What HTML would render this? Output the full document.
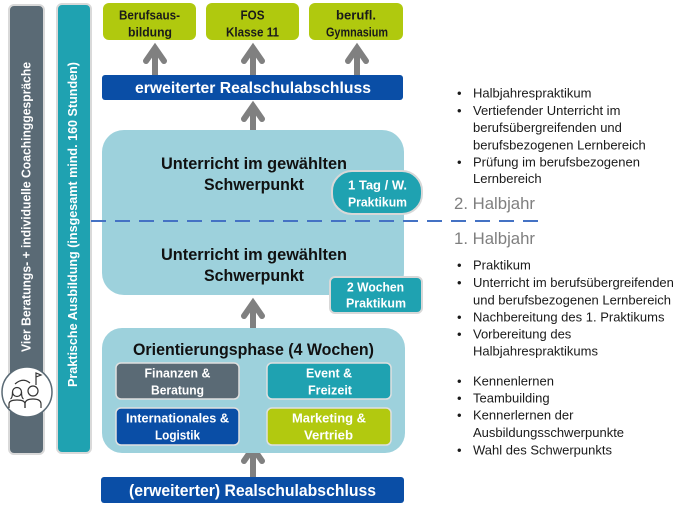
<!DOCTYPE html>
<html><head><meta charset="utf-8">
<style>
html,body{margin:0;padding:0;background:#fff;}
svg{display:block;}
text{font-family:"Liberation Sans",sans-serif;}
.b{font-weight:bold;}
.w{fill:#fff;}
.bl{font-size:13px;fill:#1a1a1a;}
</style></head>
<body>
<svg width="700" height="512" viewBox="0 0 700 512" xmlns="http://www.w3.org/2000/svg">
<!-- left bars -->
<rect x="9" y="5" width="35" height="449" rx="5" fill="#5a6a75" stroke="#d9d9d9" stroke-width="2"/>
<rect x="57" y="4" width="34" height="449" rx="5" fill="#1fa2b1" stroke="#d9d9d9" stroke-width="2"/>
<text class="b w" font-size="13" text-anchor="middle" textLength="290" lengthAdjust="spacingAndGlyphs" transform="translate(30.5,207) rotate(-90)">Vier Beratungs- + individuelle Coachinggespräche</text>
<text class="b w" font-size="13" text-anchor="middle" textLength="325" lengthAdjust="spacingAndGlyphs" transform="translate(77,224.5) rotate(-90)">Praktische Ausbildung (insgesamt mind. 160 Stunden)</text>
<!-- icon -->
<circle cx="27" cy="392" r="25" fill="#fff" stroke="#5a6a75" stroke-width="1.5"/>
<g fill="none" stroke="#333" stroke-width="1.2">
<circle cx="17" cy="392" r="4.5"/>
<path d="M12.5 392 q0 6 -2 7 M21.5 392 q0 6 2 7"/>
<path d="M9 408 v-4 q0 -4 8 -4 q8 0 8 4 v4"/>
<circle cx="33" cy="391" r="5"/>
<path d="M25 408 v-4 q0 -5 8 -5 q8 0 8 5 v4"/>
<path d="M15 384 q8 -7 15 -1"/>
<path d="M36 385 v-12 l5 2 l-5 2"/>
</g>
<!-- top green boxes -->
<rect x="103" y="3" width="93" height="37" rx="6" fill="#b0c90e"/>
<rect x="206" y="3" width="93" height="37" rx="6" fill="#b0c90e"/>
<rect x="309" y="3" width="94" height="37" rx="6" fill="#b0c90e"/>
<g class="b" font-size="13" fill="#1a1a1a" text-anchor="middle">
<text x="149.5" y="19.5" textLength="61" lengthAdjust="spacingAndGlyphs">Berufsaus-</text>
<text x="150" y="36.5" textLength="44" lengthAdjust="spacingAndGlyphs">bildung</text>
<text x="252.5" y="19.5" textLength="24" lengthAdjust="spacingAndGlyphs">FOS</text>
<text x="252.5" y="36.5" textLength="53" lengthAdjust="spacingAndGlyphs">Klasse 11</text>
<text x="356" y="19.5" textLength="40" lengthAdjust="spacingAndGlyphs">berufl.</text>
<text x="357" y="36.5" textLength="62" lengthAdjust="spacingAndGlyphs">Gymnasium</text>
</g>
<!-- arrows -->
<g stroke="#808080" fill="none" stroke-width="6">
<line x1="155" y1="75" x2="155" y2="47"/>
<polyline points="146,61 155,48 164,61" stroke-linejoin="miter" stroke-linecap="round"/>
<line x1="253" y1="75" x2="253" y2="47"/>
<polyline points="244,61 253,48 262,61" stroke-linejoin="miter" stroke-linecap="round"/>
<line x1="357" y1="75" x2="357" y2="47"/>
<polyline points="348,61 357,48 366,61" stroke-linejoin="miter" stroke-linecap="round"/>
<line x1="253" y1="131" x2="253" y2="105"/>
<polyline points="244,119 253,106 262,119" stroke-linejoin="miter" stroke-linecap="round"/>
<line x1="253" y1="328" x2="253" y2="302"/>
<polyline points="244,316 253,303 262,316" stroke-linejoin="miter" stroke-linecap="round"/>
<line x1="253" y1="478" x2="253" y2="447"/>
<polyline points="244,461 253,448 262,461" stroke-linejoin="miter" stroke-linecap="round"/>
</g>
<!-- blue bar top -->
<rect x="102" y="75" width="301" height="25" rx="3" fill="#0a4ea6"/>
<text class="b w" x="253" y="93" font-size="16" text-anchor="middle" textLength="236" lengthAdjust="spacingAndGlyphs">erweiterter Realschulabschluss</text>
<!-- big box -->
<rect x="102" y="130" width="302" height="165" rx="22" fill="#9dd1dc"/>
<g class="b" font-size="17" fill="#111" text-anchor="middle">
<text x="254" y="169" textLength="186" lengthAdjust="spacingAndGlyphs">Unterricht im gewählten</text>
<text x="254" y="190" textLength="100" lengthAdjust="spacingAndGlyphs">Schwerpunkt</text>
<text x="254" y="260" textLength="186" lengthAdjust="spacingAndGlyphs">Unterricht im gewählten</text>
<text x="254" y="281" textLength="100" lengthAdjust="spacingAndGlyphs">Schwerpunkt</text>
</g>
<!-- badges -->
<rect x="332" y="171" width="90" height="43" rx="20" fill="#1fa2b1" stroke="#d8d8d8" stroke-width="2"/>
<rect x="330" y="277" width="92" height="36" rx="5" fill="#1fa2b1" stroke="#d8d8d8" stroke-width="2"/>
<g class="b w" font-size="13" text-anchor="middle">
<text x="377.5" y="189.5" textLength="59" lengthAdjust="spacingAndGlyphs">1 Tag / W.</text>
<text x="377.5" y="206.5" textLength="59" lengthAdjust="spacingAndGlyphs">Praktikum</text>
<text x="375.5" y="291.5" textLength="57" lengthAdjust="spacingAndGlyphs">2 Wochen</text>
<text x="376" y="307.5" textLength="60" lengthAdjust="spacingAndGlyphs">Praktikum</text>
</g>
<!-- dashed line -->
<line x1="91" y1="221" x2="538" y2="221" stroke="#4472c4" stroke-width="2" stroke-dasharray="15 9"/>
<text x="454" y="209" font-size="16.5" fill="#7f7f7f" textLength="81" lengthAdjust="spacingAndGlyphs">2. Halbjahr</text>
<text x="454" y="244" font-size="16.5" fill="#7f7f7f" textLength="81" lengthAdjust="spacingAndGlyphs">1. Halbjahr</text>
<!-- Orientierungsphase -->
<rect x="102" y="328" width="303" height="125" rx="20" fill="#9dd1dc"/>
<text class="b" x="253.5" y="355" font-size="17" fill="#111" text-anchor="middle" textLength="241" lengthAdjust="spacingAndGlyphs">Orientierungsphase (4 Wochen)</text>
<rect x="116" y="363" width="123" height="36" rx="5" fill="#5a6a75" stroke="#e0e0e0" stroke-width="1.5"/>
<rect x="267" y="363" width="124" height="36" rx="5" fill="#1fa2b1" stroke="#e0e0e0" stroke-width="1.5"/>
<rect x="116" y="408" width="123" height="37" rx="5" fill="#0a4ea6" stroke="#e0e0e0" stroke-width="1.5"/>
<rect x="267" y="408" width="124" height="37" rx="5" fill="#b2c90f" stroke="#e0e0e0" stroke-width="1.5"/>
<g class="b w" font-size="13" text-anchor="middle">
<text x="177.5" y="377.5" textLength="66" lengthAdjust="spacingAndGlyphs">Finanzen &amp;</text>
<text x="177.5" y="394.5" textLength="53" lengthAdjust="spacingAndGlyphs">Beratung</text>
<text x="329" y="377.5" textLength="46" lengthAdjust="spacingAndGlyphs">Event &amp;</text>
<text x="330" y="394.5" textLength="44" lengthAdjust="spacingAndGlyphs">Freizeit</text>
<text x="177.5" y="422.5" textLength="103" lengthAdjust="spacingAndGlyphs">Internationales &amp;</text>
<text x="177.5" y="439.5" textLength="45" lengthAdjust="spacingAndGlyphs">Logistik</text>
<text x="329" y="422.5" textLength="74" lengthAdjust="spacingAndGlyphs">Marketing &amp;</text>
<text x="328.5" y="439.5" textLength="49" lengthAdjust="spacingAndGlyphs">Vertrieb</text>
</g>
<!-- bottom bar -->
<rect x="101" y="477" width="303" height="26" rx="3" fill="#0a4ea6"/>
<text class="b w" x="252.5" y="496" font-size="17" text-anchor="middle" textLength="247" lengthAdjust="spacingAndGlyphs">(erweiterter) Realschulabschluss</text>
<!-- right bullet lists -->
<g class="bl">
<text x="457" y="97.5">•</text><text x="473" y="97.5">Halbjahrespraktikum</text>
<text x="457" y="115">•</text><text x="473" y="115">Vertiefender Unterricht im</text>
<text x="473" y="132">berufsübergreifenden und</text>
<text x="473" y="149.5">berufsbezogenen Lernbereich</text>
<text x="457" y="166.5">•</text><text x="473" y="166.5">Prüfung im berufsbezogenen</text>
<text x="473" y="183">Lernbereich</text>

<text x="457" y="269.5">•</text><text x="473" y="269.5">Praktikum</text>
<text x="457" y="287">•</text><text x="473" y="287">Unterricht im berufsübergreifenden</text>
<text x="473" y="304.5">und berufsbezogenen Lernbereich</text>
<text x="457" y="321.5">•</text><text x="473" y="321.5">Nachbereitung des 1. Praktikums</text>
<text x="457" y="338.5">•</text><text x="473" y="338.5">Vorbereitung des</text>
<text x="473" y="355.5">Halbjahrespraktikums</text>

<text x="457" y="385.5">•</text><text x="473" y="385.5">Kennenlernen</text>
<text x="457" y="402.5">•</text><text x="473" y="402.5">Teambuilding</text>
<text x="457" y="419.5">•</text><text x="473" y="419.5">Kennerlernen der</text>
<text x="473" y="437">Ausbildungsschwerpunkte</text>
<text x="457" y="454.5">•</text><text x="473" y="454.5">Wahl des Schwerpunkts</text>
</g>
</svg>
</body></html>
